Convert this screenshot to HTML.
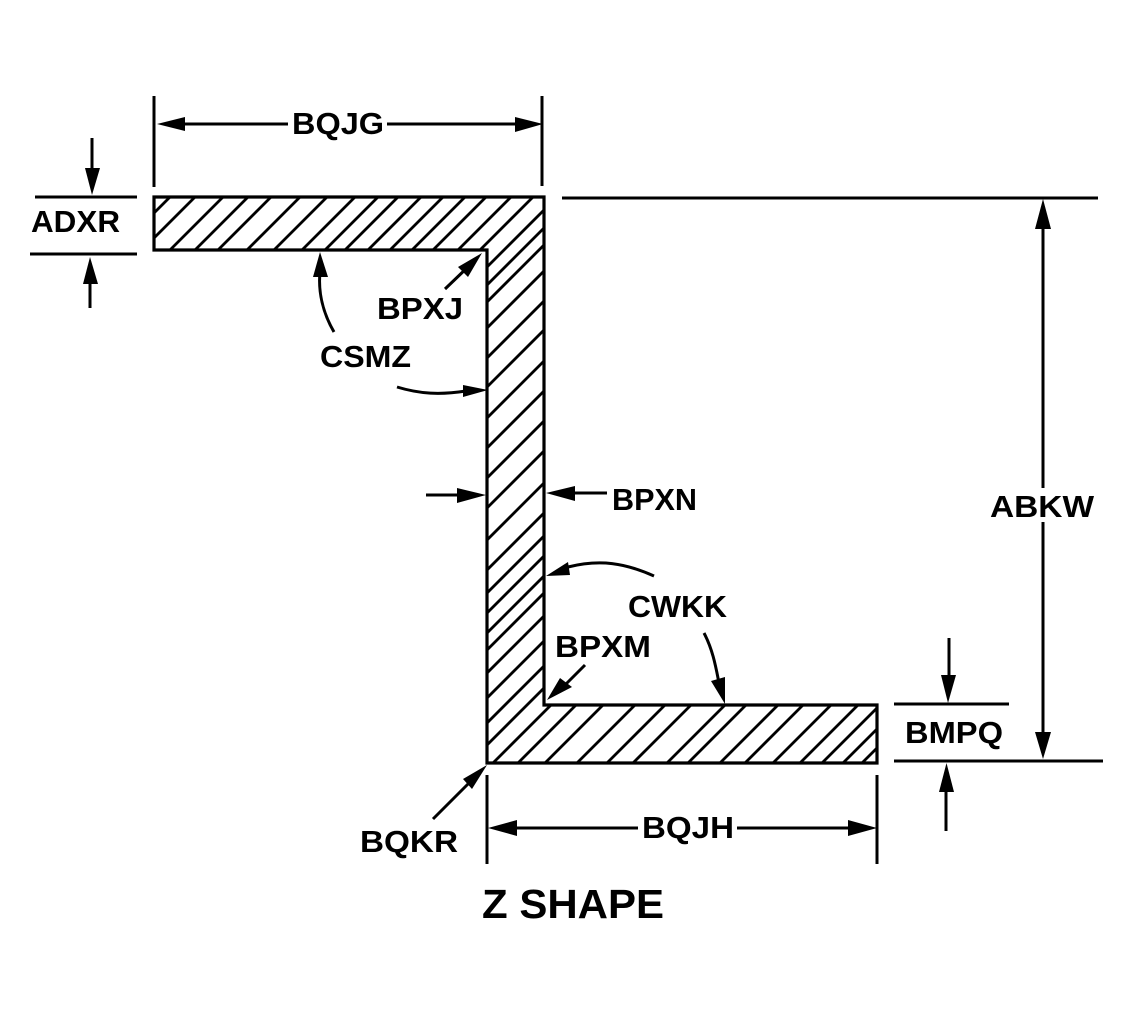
<!DOCTYPE html>
<html><head><meta charset="utf-8"><style>
html,body{margin:0;padding:0;background:#fff;width:1128px;height:1009px;overflow:hidden}
svg{display:block;overflow:hidden}
text{font-family:"Liberation Sans",sans-serif;font-weight:bold;font-size:31px;fill:#000}
</style></head><body>
<svg width="1128" height="1009" viewBox="0 0 1128 1009" xmlns="http://www.w3.org/2000/svg">
<defs><clipPath id="z"><polygon points="154,197 544,197 544,705 877,705 877,763 487,763 487,250 154,250"/></clipPath></defs>
<g clip-path="url(#z)" stroke="#000" stroke-width="2.8">
<path d="M367,0L-133,500M392,0L-108,500M420,0L-80,500M445,0L-55,500M468,0L-32,500M497,0L-3,500M524,0L24,500M552,0L52,500M575,0L75,500M595,0L95,500M618,0L118,500M640,0L140,500M662,0L162,500M683,0L183,500M708,0L208,500M730,0L230,500M754,0L254,500M772,0L272,500M789,0L289,500M815,0L315,500M845,0L345,500M874,0L374,500M905,0L405,500"/>
<path d="M935,0L-65,1000M965,0L-35,1000M995,0L-5,1000M1027,0L27,1000M1057,0L57,1000M1080,0L80,1000M1100,0L100,1000M1120,0L120,1000M1137,0L137,1000M1160,0L160,1000M1185,0L185,1000M1210,0L210,1000M1232,0L232,1000M1256,0L256,1000M1281,0L281,1000M1308,0L308,1000M1340,0L340,1000M1370,0L370,1000M1396,0L396,1000M1430,0L430,1000M1451,0L451,1000M1483,0L483,1000M1508,0L508,1000M1536,0L536,1000M1563,0L563,1000M1585,0L585,1000M1606,0L606,1000M1625,0L625,1000"/>
</g>
<polygon points="154,197 544,197 544,705 877,705 877,763 487,763 487,250 154,250" fill="none" stroke="#000" stroke-width="3.2"/>
<g stroke="#000" stroke-width="3" fill="none">
<path d="M154,96V187M542,96V186M35,197H137M30,254H137M562,198H1098M894,704H1009M894,761H1103M487,775V864M877,775V864"/>
<path d="M175,124H288M387,124H525"/>
<path d="M92,138V175M90,275V308"/>
<path d="M1043,220V488M1043,522V738"/>
<path d="M949,638V682M946,785V831"/>
<path d="M510,828H638M737,828H855"/>
<path d="M445,289L470,265M585,665L563,687M433,819L470,782"/>
<path d="M426,495H466M567,493H607"/>
<path d="M320,272C318,292 323,313 334,332M397,387C420,394 440,395 466,391M654,576C625,563 600,559 568,567M704,633C713,650 716,668 719,683"/>
</g>
<g fill="#000" stroke="none">
<polygon points="157,124 185,117 185,131"/>
<polygon points="543,124 515,117 515,132"/>
<polygon points="92,195 85,168 100,168"/>
<polygon points="90,257 83,284 98,284"/>
<polygon points="1043,199 1035,229 1051,229"/>
<polygon points="1043,759 1035,732 1051,732"/>
<polygon points="948,703 941,675 956,675"/>
<polygon points="946.5,763 939,792 954,792"/>
<polygon points="488,828 517,820 517,836"/>
<polygon points="877,828 848,820 848,836"/>
<polygon points="482,253 458,267 468,277"/>
<polygon points="547,700 560,678 572,687"/>
<polygon points="487,765 463,779 472,789"/>
<polygon points="486,495 457,488 457,503"/>
<polygon points="546,493 575,486 575,501"/>
<polygon points="320,252 313,277 328,277"/>
<polygon points="488,390 463,385 463,397"/>
<polygon points="546,576 568,562 570,575"/>
<polygon points="725,704 711,681 725,677"/>
</g>
<text x="292" y="134" textLength="92" lengthAdjust="spacingAndGlyphs">BQJG</text>
<text x="31" y="232" textLength="89" lengthAdjust="spacingAndGlyphs">ADXR</text>
<text x="377" y="319" textLength="86" lengthAdjust="spacingAndGlyphs">BPXJ</text>
<text x="320" y="367" textLength="91" lengthAdjust="spacingAndGlyphs">CSMZ</text>
<text x="612" y="510" textLength="85" lengthAdjust="spacingAndGlyphs">BPXN</text>
<text x="990" y="517" textLength="104" lengthAdjust="spacingAndGlyphs">ABKW</text>
<text x="628" y="617" textLength="99" lengthAdjust="spacingAndGlyphs">CWKK</text>
<text x="555" y="657" textLength="96" lengthAdjust="spacingAndGlyphs">BPXM</text>
<text x="905" y="743" textLength="98" lengthAdjust="spacingAndGlyphs">BMPQ</text>
<text x="642" y="838" textLength="92" lengthAdjust="spacingAndGlyphs">BQJH</text>
<text x="360" y="852" textLength="98" lengthAdjust="spacingAndGlyphs">BQKR</text>
<text x="482" y="918" textLength="182" lengthAdjust="spacingAndGlyphs" style="font-size:41px">Z SHAPE</text>
</svg>
</body></html>
